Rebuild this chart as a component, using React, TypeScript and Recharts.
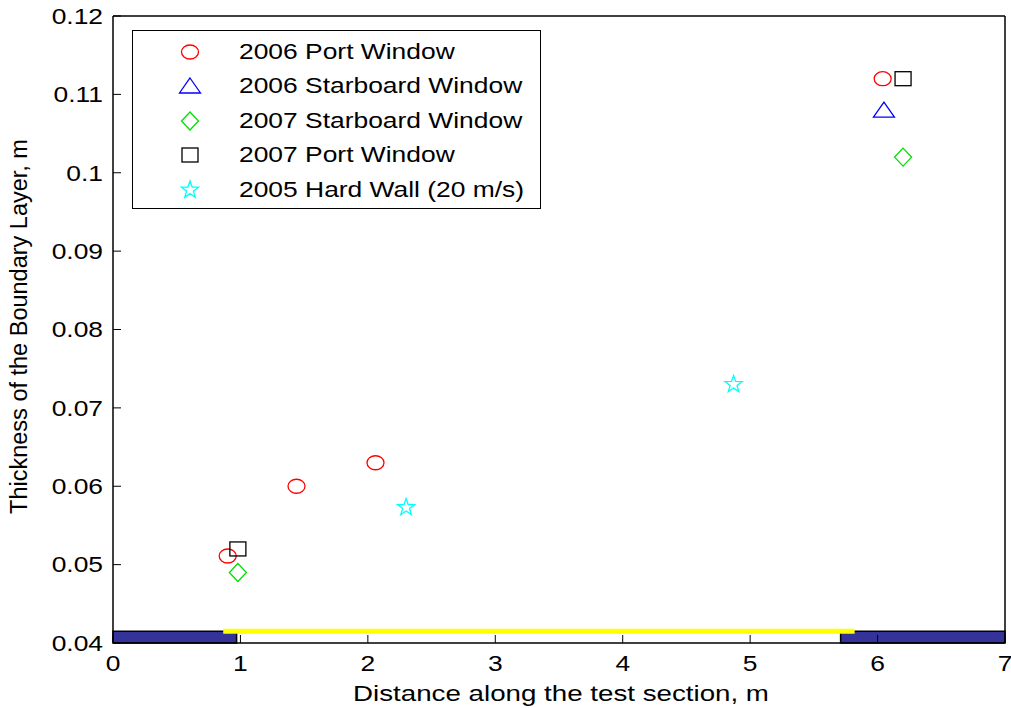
import React from 'react';
import { ScatterChart, Scatter, XAxis, YAxis, ReferenceArea, ReferenceLine, Legend } from 'recharts';

const FONT = "'Liberation Sans', Arial, Helvetica, sans-serif";

// Axis ticks
const xTicks = [0, 1, 2, 3, 4, 5, 6, 7];
const yTicks = [0.04, 0.05, 0.06, 0.07, 0.08, 0.09, 0.1, 0.11, 0.12];

// Boundary layer thickness (m) against distance along the test section (m)
const port2006 = [
  { x: 0.9, y: 0.0511 },
  { x: 1.44, y: 0.06 },
  { x: 2.06, y: 0.063 },
  { x: 6.04, y: 0.112 },
];
const starboard2006 = [{ x: 6.05, y: 0.108 }];
const starboard2007 = [
  { x: 0.98, y: 0.049 },
  { x: 6.2, y: 0.102 },
];
const port2007 = [
  { x: 0.98, y: 0.052 },
  { x: 6.2, y: 0.112 },
];
const hardWall2005 = [
  { x: 2.3, y: 0.0573 },
  { x: 4.87, y: 0.073 },
];

// Hard-wall sections at both ends of the floor, and the lined stretch between them
const hardSections = [
  { from: 0, to: 0.97 },
  { from: 5.71, to: 7 },
];
const sectionBase = 0.04;
const sectionTop = 0.0415;
const linerTrack = { from: 0.865, to: 5.82, level: 0.0415 };

type MarkerKind = 'circle' | 'triangle' | 'diamond' | 'square' | 'star';

const series: { name: string; data: { x: number; y: number }[]; kind: MarkerKind; color: string }[] = [
  { name: '2006 Port Window', data: port2006, kind: 'circle', color: '#ff0000' },
  { name: '2006 Starboard Window', data: starboard2006, kind: 'triangle', color: '#0000ff' },
  { name: '2007 Starboard Window', data: starboard2007, kind: 'diamond', color: '#00e000' },
  { name: '2007 Port Window', data: port2007, kind: 'square', color: '#000000' },
  { name: '2005 Hard Wall (20 m/s)', data: hardWall2005, kind: 'star', color: '#00ffff' },
];

function Marker({ kind, cx, cy, color }: { kind: MarkerKind; cx: number; cy: number; color: string }) {
  const common = { fill: 'none', stroke: color, strokeWidth: 1.3 };
  switch (kind) {
    case 'circle':
      return <ellipse cx={cx} cy={cy} rx={8.5} ry={7} {...common} />;
    case 'triangle':
      return <polygon points={`${cx},${cy - 8} ${cx + 10.5},${cy + 7} ${cx - 10.5},${cy + 7}`} {...common} />;
    case 'diamond':
      return <polygon points={`${cx},${cy - 9} ${cx + 8.5},${cy} ${cx},${cy + 9} ${cx - 8.5},${cy}`} {...common} />;
    case 'square':
      return <rect x={cx - 8} y={cy - 7} width={16} height={14} {...common} />;
    case 'star': {
      const pts: string[] = [];
      for (let i = 0; i < 10; i++) {
        const r = i % 2 === 0 ? 9 : 3.6;
        const a = -Math.PI / 2 + (i * Math.PI) / 5;
        pts.push(`${cx + r * Math.cos(a)},${cy + r * Math.sin(a)}`);
      }
      return <polygon points={pts.join(' ')} {...common} />;
    }
  }
  return null;
}

const XTick = (props: any) => {
  const { x, y, payload } = props;
  return (
    <text transform={`translate(${x},${y}) scale(1.2,1)`} textAnchor="middle" dy={16} fontSize={22} fill="#000" fontFamily={FONT}>
      {payload.value}
    </text>
  );
};

const YTick = (props: any) => {
  const { x, y, payload } = props;
  const label = String(+Number(payload.value).toFixed(2));
  return (
    <text transform={`translate(${x},${y}) scale(1.2,1)`} textAnchor="end" dy={7.8} fontSize={22} fill="#000" fontFamily={FONT}>
      {label}
    </text>
  );
};

const XTitle = (props: any) => {
  const { x, y, width, height } = props.viewBox;
  const cx = x + width / 2 + 2;
  return (
    <text transform={`translate(${cx},${y + height + 28}) scale(1.26,1)`} textAnchor="middle" fontSize={22} fill="#000" fontFamily={FONT}>
      Distance along the test section, m
    </text>
  );
};

const YTitle = (props: any) => {
  const { x, y, height } = props.viewBox;
  const cy = y + height / 2 - 3;
  return (
    <text transform={`translate(${x - 26},${cy}) rotate(-90)`} textAnchor="middle" fontSize={23.5} fill="#000" fontFamily={FONT}>
      Thickness of the Boundary Layer, m
    </text>
  );
};

const LegendBox = () => (
  <div
    style={{
      width: 409,
      height: 179,
      boxSizing: 'border-box',
      border: '1.5px solid #000',
      background: '#fff',
      position: 'relative',
      fontFamily: FONT,
    }}
  >
    {series.map((s, i) => (
      <div key={s.name} style={{ position: 'absolute', left: 0, top: 21 + i * 34.4 - 15, height: 30, width: 405 }}>
        <svg width={80} height={30} style={{ position: 'absolute', left: 0, top: 0 }}>
          <Marker kind={s.kind} cx={57} cy={15} color={s.color} />
        </svg>
        <span
          style={{
            position: 'absolute',
            left: 106,
            top: 2,
            fontSize: 22,
            lineHeight: '26px',
            whiteSpace: 'nowrap',
            transform: 'scaleX(1.2)',
            transformOrigin: 'left center',
            color: '#000',
          }}
        >
          {s.name}
        </span>
      </div>
    ))}
  </div>
);

export default function App() {
  return (
    <div style={{ position: 'absolute', left: 0, top: 0, width: 1011, height: 708, background: '#fff' }}>
      <ScatterChart width={1011} height={708} margin={{ top: 15, right: 5, bottom: 35, left: 53 }}>
        <XAxis
          xAxisId="bottom"
          type="number"
          dataKey="x"
          domain={[0, 7]}
          ticks={xTicks}
          height={30}
          tickSize={-8}
          tickMargin={20}
          tick={<XTick />}
          axisLine={{ stroke: '#000', strokeWidth: 1.5 }}
          tickLine={{ stroke: '#000', strokeWidth: 1 }}
          label={<XTitle />}
        />
        <XAxis
          xAxisId="top"
          orientation="top"
          type="number"
          domain={[0, 7]}
          ticks={xTicks}
          height={1}
          tickSize={-8}
          tick={false}
          axisLine={{ stroke: '#000', strokeWidth: 1.5 }}
          tickLine={{ stroke: '#000', strokeWidth: 1 }}
        />
        <YAxis
          yAxisId="left"
          type="number"
          dataKey="y"
          domain={[0.04, 0.12]}
          ticks={yTicks}
          width={60}
          tickSize={-8}
          tickMargin={18}
          tick={<YTick />}
          axisLine={{ stroke: '#000', strokeWidth: 1.5 }}
          tickLine={{ stroke: '#000', strokeWidth: 1 }}
          label={<YTitle />}
        />
        <YAxis
          yAxisId="right"
          orientation="right"
          type="number"
          domain={[0.04, 0.12]}
          ticks={yTicks}
          width={1}
          tickSize={-8}
          tick={false}
          axisLine={{ stroke: '#000', strokeWidth: 1.5 }}
          tickLine={{ stroke: '#000', strokeWidth: 1 }}
        />
        {hardSections.map((s, i) => (
          <ReferenceArea
            key={i}
            xAxisId="bottom"
            yAxisId="left"
            x1={s.from}
            x2={s.to}
            y1={sectionBase}
            y2={sectionTop}
            fill="#333399"
            fillOpacity={1}
            stroke="#000"
            strokeWidth={1.5}
          />
        ))}
        <ReferenceLine
          xAxisId="bottom"
          yAxisId="left"
          segment={[
            { x: linerTrack.from, y: linerTrack.level },
            { x: linerTrack.to, y: linerTrack.level },
          ]}
          stroke="#ffff00"
          strokeWidth={5}
        />
        {series.map((s) => (
          <Scatter
            key={s.name}
            name={s.name}
            data={s.data}
            xAxisId="bottom"
            yAxisId="left"
            isAnimationActive={false}
            shape={(p: any) => <Marker kind={s.kind} cx={p.cx} cy={p.cy} color={s.color} />}
          />
        ))}
        <Legend
          layout="vertical"
          align="center"
          verticalAlign="middle"
          wrapperStyle={{ position: 'absolute', left: 132, top: 30, width: 409, height: 179 }}
          content={() => <LegendBox />}
        />
      </ScatterChart>
    </div>
  );
}
